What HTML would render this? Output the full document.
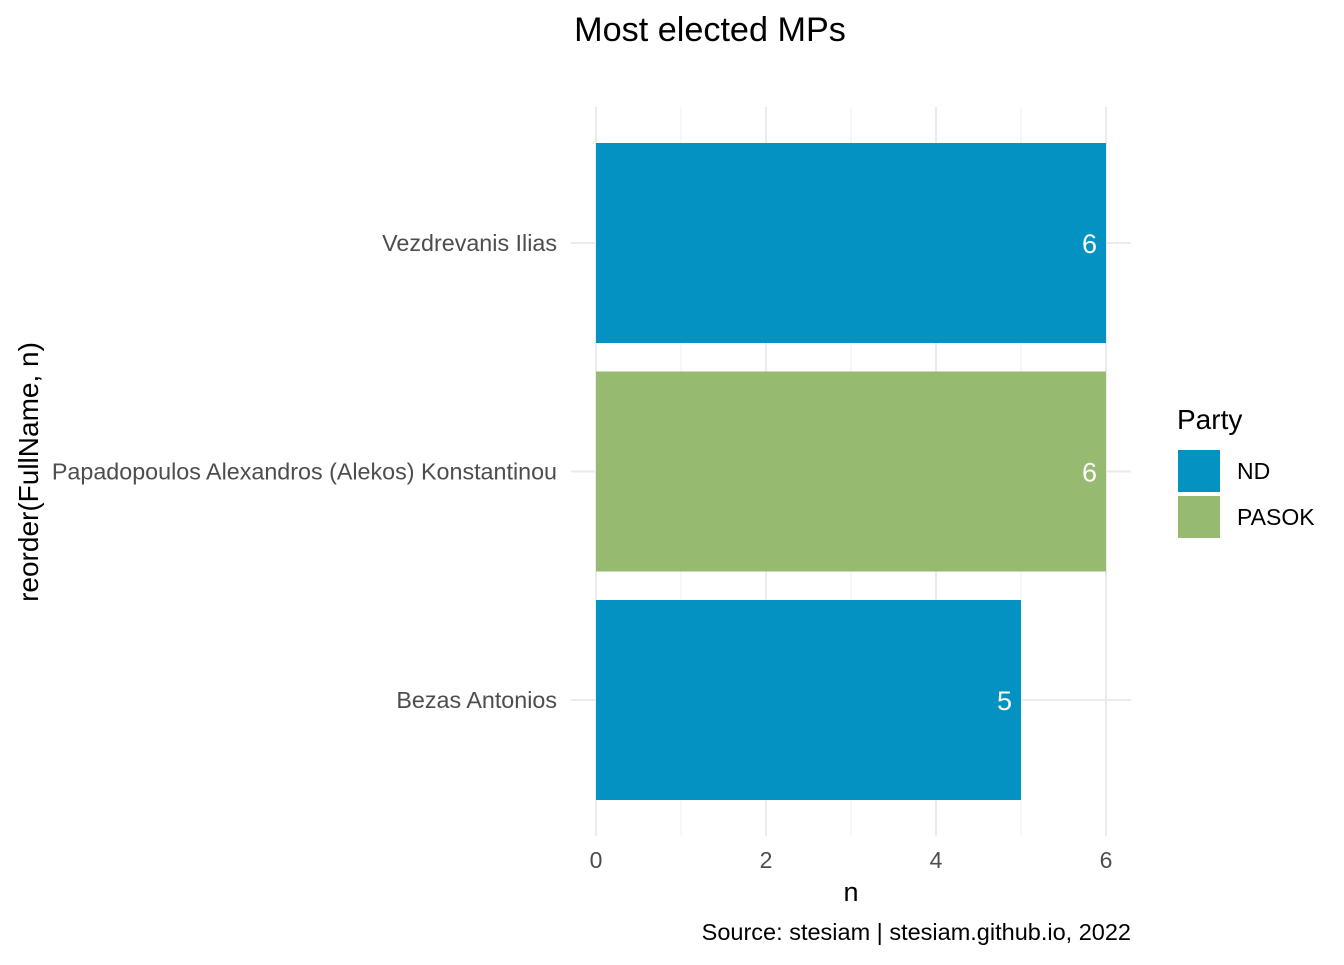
<!DOCTYPE html>
<html><head><meta charset="utf-8"><style>
body{margin:0;background:#fff;font-family:"Liberation Sans",sans-serif}
</style></head><body>
<svg width="1344" height="960" xmlns="http://www.w3.org/2000/svg" font-family="Liberation Sans, sans-serif">
<g id="grid"></g>
<g id="bars"></g>
<g id="labels"></g>
<text x="710" y="41" font-size="34.2" text-anchor="middle" fill="#000">Most elected MPs</text>
<text x="851" y="901" font-size="27" text-anchor="middle" fill="#000">n</text>
<text transform="translate(38,472) rotate(-90)" font-size="28" text-anchor="middle" fill="#000">reorder(FullName, n)</text>
<text x="1131" y="940" font-size="23.5" text-anchor="end" fill="#000">Source: stesiam | stesiam.github.io, 2022</text>
<g>
<text x="1177" y="429" font-size="28" fill="#000">Party</text>
<rect x="1178" y="450" width="42" height="42" fill="#0492C2"/>
<text x="1237" y="479" font-size="23" fill="#000">ND</text>
<rect x="1178" y="496" width="42" height="42" fill="#96BA70"/>
<text x="1237" y="525" font-size="23" fill="#000">PASOK</text>
</g>
</svg>
<script>
const names=["Vezdrevanis Ilias","Papadopoulos Alexandros (Alekos) Konstantinou","Bezas Antonios"];
const values=[6,6,5];
const parties=["ND","PASOK","ND"];
const xTicks=[0,2,4,6];
const colors={ND:"#0492C2",PASOK:"#96BA70"};
const NS="http://www.w3.org/2000/svg";
const x=v=>596+v*85;
const y=i=>243+i*228.5;
const grid=document.getElementById('grid'),bars=document.getElementById('bars'),labels=document.getElementById('labels');
function mk(tag,attrs,parent){const e=document.createElementNS(NS,tag);for(const k in attrs)e.setAttribute(k,attrs[k]);parent.appendChild(e);return e;}
for(let v=1;v<=5;v+=2){const l=mk('line',{x1:x(v),x2:x(v),y1:107,y2:836,stroke:'#EFEFEF','stroke-width':1},grid);

}
xTicks.forEach(v=>{const l=mk('line',{x1:x(v),x2:x(v),y1:107,y2:836,stroke:'#EBEBEB','stroke-width':2},grid);


const t=mk('text',{x:x(v),y:868,'font-size':23,'text-anchor':'middle',fill:'#4D4D4D'},grid);t.textContent=v;

});
names.forEach((n,i)=>{const l=mk('line',{x1:571,x2:1131,y1:y(i),y2:y(i),stroke:'#EBEBEB','stroke-width':2},grid);


const r=mk('rect',{x:x(0),y:y(i)-100,width:x(values[i])-x(0),height:200,fill:colors[parties[i]]},bars);


const vt=mk('text',{x:x(values[i])-9,y:y(i)+10,'font-size':27,'text-anchor':'end',fill:'#fff'},bars);vt.textContent=values[i];


const t=mk('text',{x:557,y:y(i)+8,'font-size':23.3,'text-anchor':'end',fill:'#4D4D4D'},labels);t.textContent=n;

});
</script>
</body></html>
